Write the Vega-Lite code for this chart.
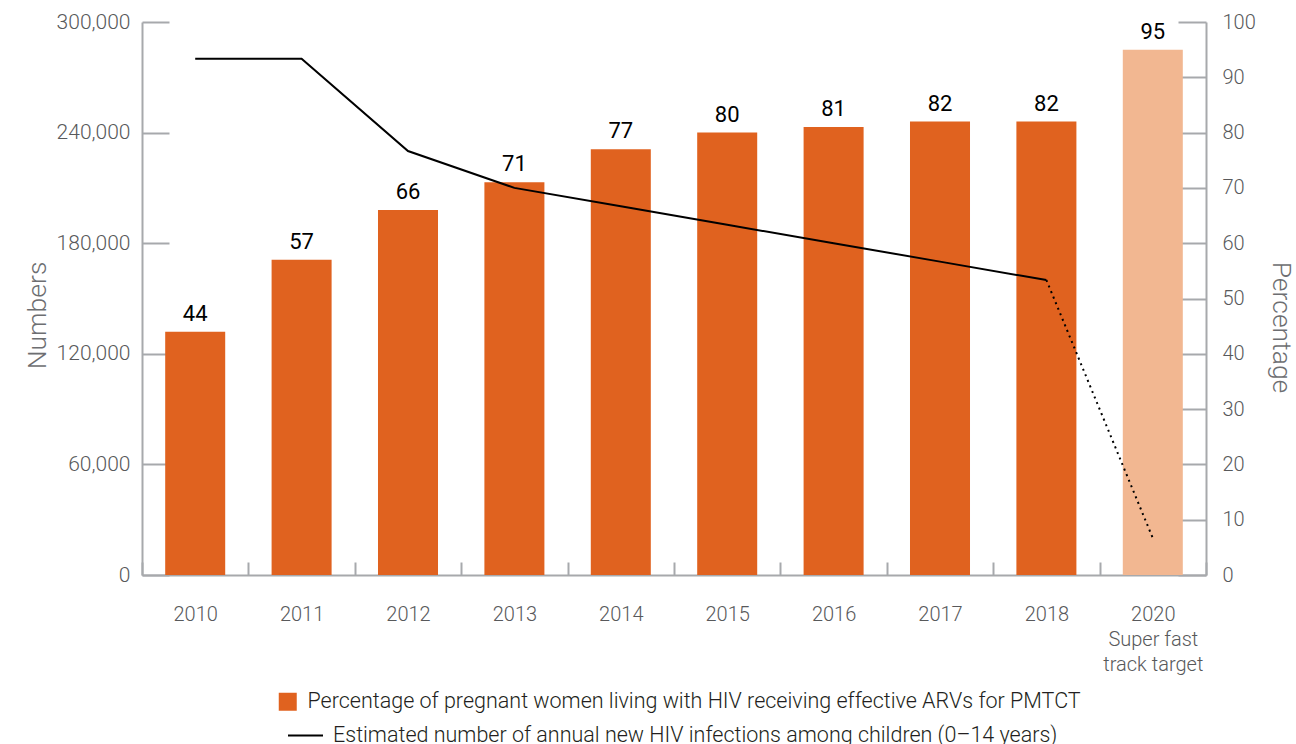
{
  "$schema": "https://vega.github.io/schema/vega-lite/v6.json",
  "width": 1064,
  "height": 553,
  "autosize": "none",
  "padding": {"left": 142, "top": 22, "right": 90, "bottom": 169},
  "background": "white",
  "config": {
    "view": {"stroke": null},
    "font": "Roboto",
    "axis": {
      "domainColor": "#A7A9AC",
      "domainWidth": 2,
      "tickColor": "#A7A9AC",
      "tickWidth": 2,
      "labelFont": "Roboto",
      "labelFontWeight": 300,
      "labelFontSize": 20,
      "labelColor": "#58595B",
      "titleFont": "Roboto",
      "titleFontWeight": 300,
      "titleFontSize": 26.5,
      "titleColor": "#6D6E71",
      "grid": false
    },
    "legend": {
      "labelFont": "Roboto",
      "labelFontWeight": 300,
      "labelFontSize": 21.5,
      "labelColor": "#231F20",
      "labelOffset": 9,
      "labelLimit": 1000,
      "padding": 0
    }
  },
  "datasets": {
    "bars": [
      {"year": "2010", "pct": 44, "kind": "Percentage of pregnant women living with HIV receiving effective ARVs for PMTCT"},
      {"year": "2011", "pct": 57, "kind": "Percentage of pregnant women living with HIV receiving effective ARVs for PMTCT"},
      {"year": "2012", "pct": 66, "kind": "Percentage of pregnant women living with HIV receiving effective ARVs for PMTCT"},
      {"year": "2013", "pct": 71, "kind": "Percentage of pregnant women living with HIV receiving effective ARVs for PMTCT"},
      {"year": "2014", "pct": 77, "kind": "Percentage of pregnant women living with HIV receiving effective ARVs for PMTCT"},
      {"year": "2015", "pct": 80, "kind": "Percentage of pregnant women living with HIV receiving effective ARVs for PMTCT"},
      {"year": "2016", "pct": 81, "kind": "Percentage of pregnant women living with HIV receiving effective ARVs for PMTCT"},
      {"year": "2017", "pct": 82, "kind": "Percentage of pregnant women living with HIV receiving effective ARVs for PMTCT"},
      {"year": "2018", "pct": 82, "kind": "Percentage of pregnant women living with HIV receiving effective ARVs for PMTCT"},
      {"year": "2020", "pct": 95, "kind": "target"}
    ],
    "line": [
      {"year": "2010", "infections": 280000, "segment": "estimate"},
      {"year": "2011", "infections": 280000, "segment": "estimate"},
      {"year": "2012", "infections": 230000, "segment": "estimate"},
      {"year": "2013", "infections": 210000, "segment": "estimate"},
      {"year": "2014", "infections": 200000, "segment": "estimate"},
      {"year": "2015", "infections": 190000, "segment": "estimate"},
      {"year": "2016", "infections": 180000, "segment": "estimate"},
      {"year": "2017", "infections": 170000, "segment": "estimate"},
      {"year": "2018", "infections": 160000, "segment": "estimate"},
      {"year": "2018", "infections": 160000, "segment": "target"},
      {"year": "2020", "infections": 20000, "segment": "target"}
    ]
  },
  "encoding": {
    "x": {
      "field": "year",
      "type": "nominal",
      "sort": null,
      "scale": {"domain": ["2010","2011","2012","2013","2014","2015","2016","2017","2018","2020"], "paddingInner": 0, "paddingOuter": 0},
      "axis": {
        "title": null,
        "labelAngle": 0,
        "tickBand": "extent",
        "tickSize": -13,
        "labelPadding": 42,
        "labelLineHeight": 25,
        "labelExpr": "datum.value === '2020' ? ['2020', 'Super fast', 'track target'] : datum.value"
      }
    }
  },
  "layer": [
    {
      "data": {"name": "bars"},
      "encoding": {
        "y": {
          "field": "pct",
          "type": "quantitative",
          "scale": {"domain": [0, 100], "nice": false},
          "axis": {
            "orient": "right",
            "title": "Percentage",
            "titleY": 305,
            "values": [0,10,20,30,40,50,60,70,80,90,100],
            "tickSize": -28,
            "labelPadding": 44,
            "titlePadding": 11
          }
        }
      },
      "layer": [
        {
          "mark": {"type": "bar", "width": {"band": 0.564}},
          "encoding": {
            "color": {
              "field": "kind",
              "type": "nominal",
              "scale": {"domain": ["Percentage of pregnant women living with HIV receiving effective ARVs for PMTCT", "target"], "range": ["#E0621F", "#F2B791"]},
              "legend": {
                "title": null,
                "values": ["Percentage of pregnant women living with HIV receiving effective ARVs for PMTCT"],
                "orient": "none",
                "legendX": 135,
                "legendY": 669,
                "symbolType": "square",
                "symbolSize": 324,
                "symbolStrokeWidth": 0
              }
            }
          }
        },
        {
          "mark": {"type": "text", "baseline": "bottom", "dy": -6, "fontSize": 22, "font": "Roboto", "color": "#000000"},
          "encoding": {"text": {"field": "pct", "type": "quantitative"}}
        }
      ]
    },
    {
      "data": {"name": "line"},
      "encoding": {
        "y": {
          "field": "infections",
          "type": "quantitative",
          "scale": {"domain": [0, 300000], "nice": false},
          "axis": {
            "orient": "left",
            "title": "Numbers",
            "titleY": 293,
            "values": [0,60000,120000,180000,240000,300000],
            "format": ",.0f",
            "labelFontSize": 21,
            "tickSize": -27,
            "labelPadding": 39,
            "titlePadding": 5
          }
        }
      },
      "layer": [
        {
          "transform": [{"filter": "datum.segment === 'estimate'"}],
          "mark": {"type": "line", "strokeWidth": 2},
          "encoding": {
            "stroke": {
              "datum": "Estimated number of annual new HIV infections among children (0–14 years)",
              "type": "nominal",
              "scale": {"range": ["#000000"]},
              "legend": {
                "title": null,
                "orient": "none",
                "legendX": 145,
                "legendY": 695,
                "symbolType": "stroke",
                "symbolSize": 1225,
                "symbolStrokeWidth": 2
              }
            }
          }
        },
        {
          "transform": [{"filter": "datum.segment === 'target'"}],
          "mark": {"type": "line", "strokeWidth": 2, "strokeDash": [2, 4], "color": "#000000"},
          "encoding": {}
        }
      ]
    }
  ],
  "resolve": {"scale": {"y": "independent", "color": "independent", "stroke": "independent"}}
}
